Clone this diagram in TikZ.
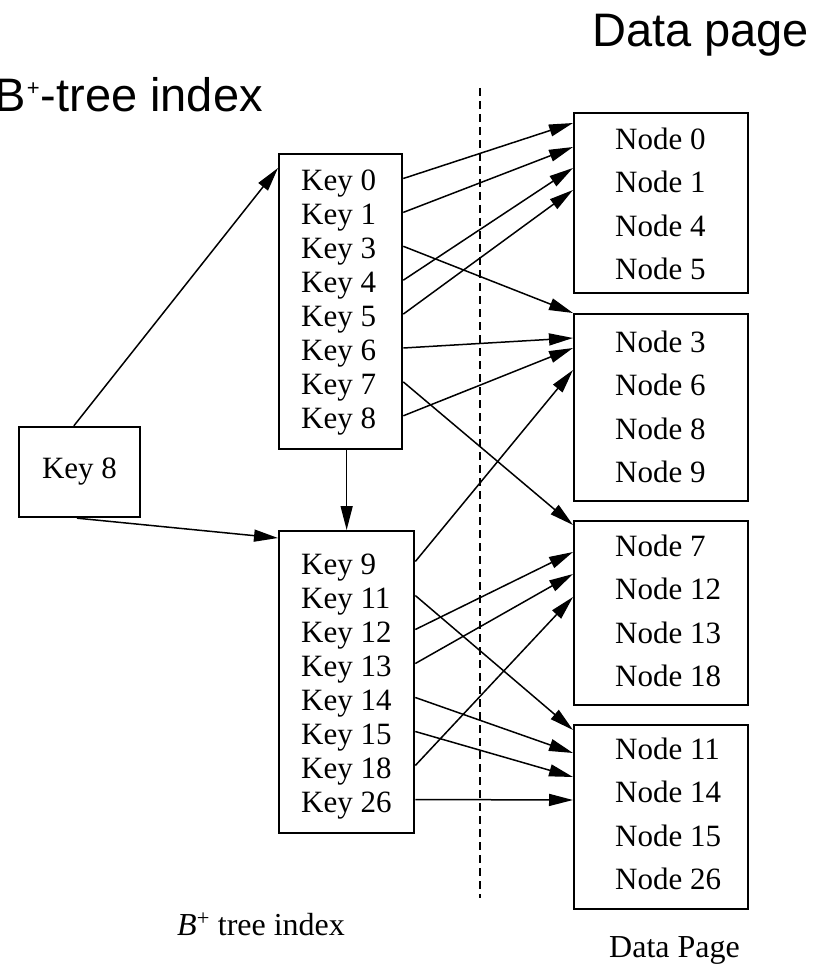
\documentclass[tikz,border=0pt]{standalone}
\usepackage{fontspec}
\setmainfont{Liberation Serif}
\newfontfamily\headfont{Liberation Sans}
\usetikzlibrary{arrows.meta,calc}

% arrow from a key row (on the right edge of its key block) to a data page
\newcommand\keyarrow[4]{%
  \draw[arr] ($(#1.base -| #2.east)+(0,-12.5)$) -- ($(#3.north west)+(0,#4)$);}

\begin{document}
\begin{tikzpicture}[x=1pt,y=-1pt,
  block/.style={draw, line width=2.3pt, inner sep=0pt, anchor=north west},
  txt/.style={inner sep=0pt, anchor=base west, font=\fontsize{31}{34}\selectfont},
  arr/.style={line width=1.5pt, -{Triangle[length=24pt,width=12pt]}},
  divider/.style={line width=1.2pt, dash pattern=on 8pt off 5pt},
  heading/.style={inner sep=0pt, font=\headfont\fontsize{47}{56}\selectfont},
  caption/.style={inner sep=0pt, anchor=base west, font=\fontsize{32}{38}\selectfont},
]
\useasboundingbox (0,0) rectangle (824,965);

% headings
\node[heading, anchor=base east] (hidx) at (263,112)
  {B\kern1pt\raisebox{16pt}{\fontsize{22}{22}\selectfont +}\kern1pt-tree index};
\node[heading, anchor=base west] (hdata) at (592,47) {Data page};

% separator between index and data pages
\coordinate (sepTop) at (480,88);
\coordinate (sepBot) at (480,898);
\draw[divider] (sepTop) -- (sepBot);

% index blocks
\node[block, minimum width=123pt, minimum height=295pt] (ukey) at (278,153) {};
\node[block, minimum width=135pt, minimum height=302pt] (lkey) at (278,530) {};
\node[block, anchor=center, minimum width=121pt, minimum height=90pt,
      font=\fontsize{31}{34}\selectfont] (root) at (79.5,472) {Key 8};

\foreach \lab [count=\i from 0] in {0,1,3,4,5,6,7,8}
  \node[txt] (k\lab) at (301,191+33.9*\i) {Key \lab};
\foreach \lab [count=\i from 0] in {9,11,12,13,14,15,18,26}
  \node[txt] (k\lab) at (301,574+34*\i) {Key \lab};

% data pages
\node[block, minimum width=174pt, minimum height=180pt] (d1) at (573,112) {};
\node[block, minimum width=174pt, minimum height=187pt] (d2) at (573,313) {};
\node[block, minimum width=174pt, minimum height=184pt] (d3) at (573,520) {};
\node[block, minimum width=174pt, minimum height=184pt] (d4) at (573,724) {};

\foreach \lab [count=\i from 0] in {0,1,4,5}
  \node[txt] (n\lab) at (615,149.5+43.3*\i) {Node \lab};
\foreach \lab [count=\i from 0] in {3,6,8,9}
  \node[txt] (n\lab) at (615,352.5+43.3*\i) {Node \lab};
\foreach \lab [count=\i from 0] in {7,12,13,18}
  \node[txt] (n\lab) at (615,556.5+43.3*\i) {Node \lab};
\foreach \lab [count=\i from 0] in {11,14,15,26}
  \node[txt] (n\lab) at (615,759.5+43.3*\i) {Node \lab};

% captions
\node[caption] (capidx) at (177,935) {\textit{B}\textsuperscript{+} tree index};
\node[caption] (capdata) at (609,957) {Data Page};

% tree links
\draw[arr] ($(root.north west)+(56,0)$) -- ($(ukey.north west)+(0,15)$);
\draw[arr] ($(root.south west)+(59,0)$) -- ($(lkey.north west)+(0,8)$);
\draw[arr] (lkey.north |- ukey.south) -- (lkey.north);

% pointers from keys to data pages
\keyarrow{k0}{ukey}{d1}{11}
\keyarrow{k1}{ukey}{d1}{35}
\keyarrow{k4}{ukey}{d1}{56}
\keyarrow{k5}{ukey}{d1}{78}
\keyarrow{k3}{ukey}{d2}{0}
\keyarrow{k6}{ukey}{d2}{25}
\keyarrow{k8}{ukey}{d2}{35}
\keyarrow{k7}{ukey}{d3}{5}
\keyarrow{k9}{lkey}{d2}{57}
\keyarrow{k12}{lkey}{d3}{32}
\keyarrow{k13}{lkey}{d3}{54}
\keyarrow{k18}{lkey}{d3}{77}
\keyarrow{k11}{lkey}{d4}{6}
\keyarrow{k14}{lkey}{d4}{29}
\keyarrow{k15}{lkey}{d4}{53}
\keyarrow{k26}{lkey}{d4}{76}
\end{tikzpicture}
\end{document}
